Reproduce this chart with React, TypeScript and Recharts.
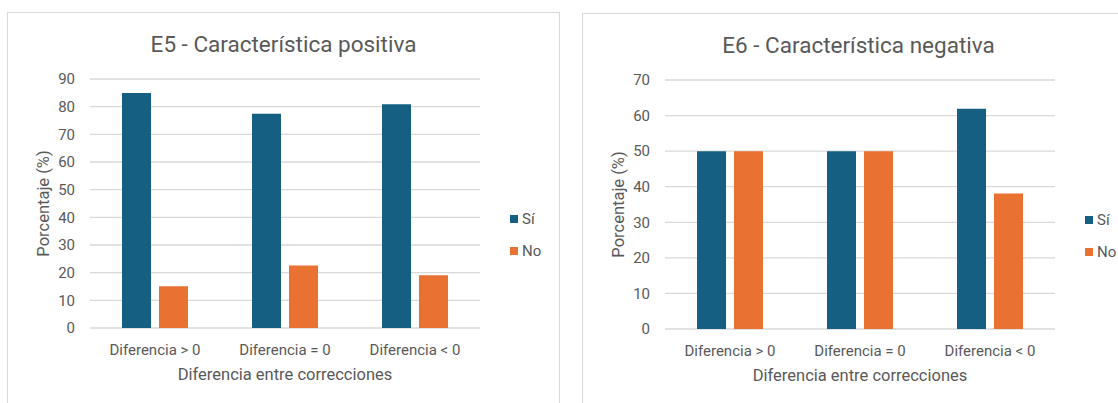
import { BarChart, Bar, XAxis, YAxis, CartesianGrid } from 'recharts'

const categories = ['Diferencia > 0', 'Diferencia = 0', 'Diferencia < 0']

// E5 - característica positiva (%)
const e5Si = [84.9, 77.4, 80.9]
const e5No = [15.1, 22.6, 19.1]
const e5Ticks = [0, 10, 20, 30, 40, 50, 60, 70, 80, 90]

// E6 - característica negativa (%)
const e6Si = [50, 50, 61.9]
const e6No = [50, 50, 38.1]
const e6Ticks = [0, 10, 20, 30, 40, 50, 60, 70]

const BLUE = '#156082'
const ORANGE = '#E97132'
const TEXT = '#595959'
const GRID = '#d9d9d9'
const FONT = 'Roboto, "Liberation Sans", sans-serif'

const PANEL_W = 553
const PANEL_H = 400

function buildRows(si: number[], no: number[]) {
  return categories.map((name, i) => ({ name, si: si[i], no: no[i] }))
}

// legend on the right side, Excel style: small square + label
function LegendBox() {
  const items = [
    { label: 'Sí', color: BLUE },
    { label: 'No', color: ORANGE },
  ]
  return (
    <div
      style={{
        position: 'absolute',
        left: 502,
        top: 190,
        fontFamily: FONT,
        fontSize: 15,
        color: TEXT,
      }}
    >
      {items.map((it) => (
        <div key={it.label} style={{ display: 'flex', alignItems: 'center', height: 32 }}>
          <span style={{ width: 8, height: 8, background: it.color, marginRight: 4 }} />
          <span>{it.label}</span>
        </div>
      ))}
    </div>
  )
}

function Panel(props: {
  left: number
  top: number
  title: string
  si: number[]
  no: number[]
  ticks: number[]
}) {
  const { left, top, title, si, no, ticks } = props
  const rows = buildRows(si, no)
  return (
    <div
      style={{
        position: 'absolute',
        left,
        top,
        width: PANEL_W,
        height: PANEL_H,
        border: '1px solid #d9d9d9',
        boxSizing: 'border-box',
        background: '#fff',
      }}
    >
      <div
        style={{
          position: 'absolute',
          top: 18,
          width: '100%',
          textAlign: 'center',
          fontFamily: FONT,
          fontSize: 22.5,
          color: TEXT,
        }}
      >
        {title}
      </div>
      <BarChart
        width={PANEL_W}
        height={391}
        data={rows}
        margin={{ top: 67, right: 80, bottom: 15, left: 20 }}
        barSize={29}
        barGap={8}
        style={{ position: 'absolute', left: -1, top: -1 }}
      >
        <CartesianGrid vertical={false} stroke={GRID} strokeWidth={1.3} />
        <XAxis
          dataKey="name"
          axisLine={false}
          tickLine={false}
          height={60}
          tickMargin={10}
          tick={{ fill: TEXT, fontSize: 15, fontFamily: FONT }}
          label={{
            value: 'Diferencia entre correcciones',
            position: 'insideBottom',
            offset: 8,
            fill: TEXT,
            fontSize: 16.5,
            fontFamily: FONT,
          }}
        />
        <YAxis
          width={63}
          domain={[0, ticks[ticks.length - 1]]}
          ticks={ticks}
          interval={0}
          axisLine={false}
          tickLine={false}
          tickMargin={9}
          tick={{ fill: TEXT, fontSize: 15, fontFamily: FONT }}
          label={{
            value: 'Porcentaje (%)',
            angle: -90,
            position: 'insideLeft',
            offset: 16,
            fill: TEXT,
            fontSize: 16.5,
            fontFamily: FONT,
            style: { textAnchor: 'middle' },
          }}
        />
        <Bar dataKey="si" name="Sí" fill={BLUE} isAnimationActive={false} />
        <Bar dataKey="no" name="No" fill={ORANGE} isAnimationActive={false} />
      </BarChart>
      <LegendBox />
    </div>
  )
}

export default function App() {
  return (
    <div
      style={{
        position: 'absolute',
        left: 0,
        top: 0,
        width: 1118,
        height: 403,
        overflow: 'hidden',
        background: '#fff',
      }}
    >
      <Panel left={7} top={12} title="E5 - Característica positiva" si={e5Si} no={e5No} ticks={e5Ticks} />
      <Panel left={582} top={13} title="E6 - Característica negativa" si={e6Si} no={e6No} ticks={e6Ticks} />
    </div>
  )
}
